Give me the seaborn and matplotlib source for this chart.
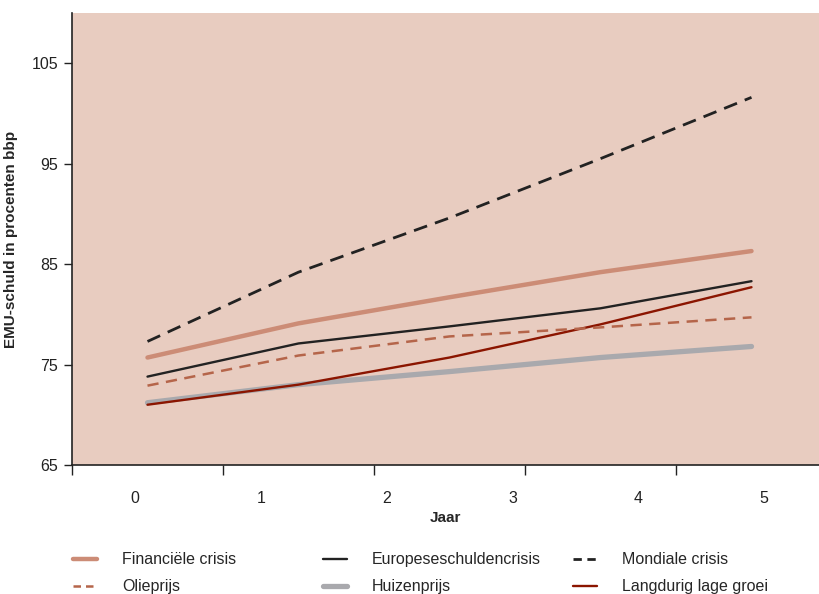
import seaborn as sns
import matplotlib.pyplot as plt
from matplotlib.lines import Line2D

# data points (positions along the x axis) and tick labels
punten = [0, 1, 2, 3, 4]
jaren = ["0", "1", "2", "3", "4", "5"]
yticks = [65, 75, 85, 95, 105]

financiele_crisis = [75.7, 79.1, 81.7, 84.2, 86.3]
europese_schuldencrisis = [73.8, 77.1, 78.8, 80.6, 83.3]
mondiale_crisis = [77.3, 84.2, 89.6, 95.5, 101.6]
olieprijs = [72.9, 75.9, 77.8, 78.7, 79.7]
huizenprijs = [71.2, 73.0, 74.3, 75.7, 76.8]
lage_groei = [71.0, 73.0, 75.7, 79.0, 82.7]

sns.set_style("ticks")
plt.rcParams["font.family"] = ["Liberation Sans", "DejaVu Sans"]

fig = plt.figure(figsize=(8.19, 5.94), dpi=100)
ax = fig.add_axes([72 / 819, 1 - 465 / 594, 1 - 72 / 819, (465 - 13) / 594])
ax.set_facecolor("#E8CCC0")

series = [
    ("Financiële crisis", financiele_crisis, "#CC8C76", 3.2, "-"),
    ("Olieprijs", olieprijs, "#B5654A", 1.8, (0, (4.5, 3))),
    ("Europeseschuldencrisis", europese_schuldencrisis, "#222222", 1.7, "-"),
    ("Huizenprijs", huizenprijs, "#A9A9AD", 3.8, "-"),
    ("Mondiale crisis", mondiale_crisis, "#222222", 2.0, (0, (5, 3))),
    ("Langdurig lage groei", lage_groei, "#8B1500", 1.7, "-"),
]
zorder = {"Huizenprijs": 2, "Langdurig lage groei": 3}
handles = []
for naam, waarden, kleur, lw, stijl in series:
    sns.lineplot(x=punten, y=waarden, ax=ax, color=kleur, lw=lw, linestyle=stijl,
                 zorder=zorder.get(naam, 4), legend=False)
    # shorter dashes in the legend so two dashes fit in the sample
    stijl_legend = (0, (3, 2)) if stijl != "-" else "-"
    handles.append(Line2D([], [], color=kleur, lw=lw, linestyle=stijl_legend, label=naam))

x0, x1 = -0.5, -0.5 + 747 / 151
ax.set_xlim(x0, x1)
ax.set_ylim(65, 110)
ax.set_yticks(yticks)
ax.tick_params(axis="y", labelsize=11.5, length=6, width=1, colors="#222222", pad=4)

# labels sit in six equal bins over five intervals, tick marks between data points
breedte = 5 / 6
ax.set_xticks([x0 + breedte / 2 + k * breedte for k in range(len(jaren))])
ax.set_xticklabels(jaren)
ax.tick_params(axis="x", which="major", length=0, labelsize=11.5, pad=19, colors="#222222")
ax.set_xticks([p - 0.5 for p in punten], minor=True)
ax.tick_params(axis="x", which="minor", length=7, width=1, direction="out", color="#222222")

ax.set_xlabel("Jaar", fontsize=11, fontweight="bold", labelpad=3)
ax.set_ylabel("EMU-schuld in procenten bbp", fontsize=11, fontweight="bold", labelpad=10)
sns.despine(ax=ax)
for s in ["left", "bottom"]:
    ax.spines[s].set_color("#222222")
    ax.spines[s].set_linewidth(1.2)

kolommen = [72, 322, 572]
for i, xk in enumerate(kolommen):
    fig.legend(handles=handles[2 * i:2 * i + 2],
               loc="upper left", bbox_to_anchor=((xk - 5) / 819, 1 - 546 / 594),
               frameon=False, fontsize=11.5, handlelength=1.45, handletextpad=1.6,
               labelspacing=0.75, borderaxespad=0)

fig.savefig("out.png", dpi=100)
